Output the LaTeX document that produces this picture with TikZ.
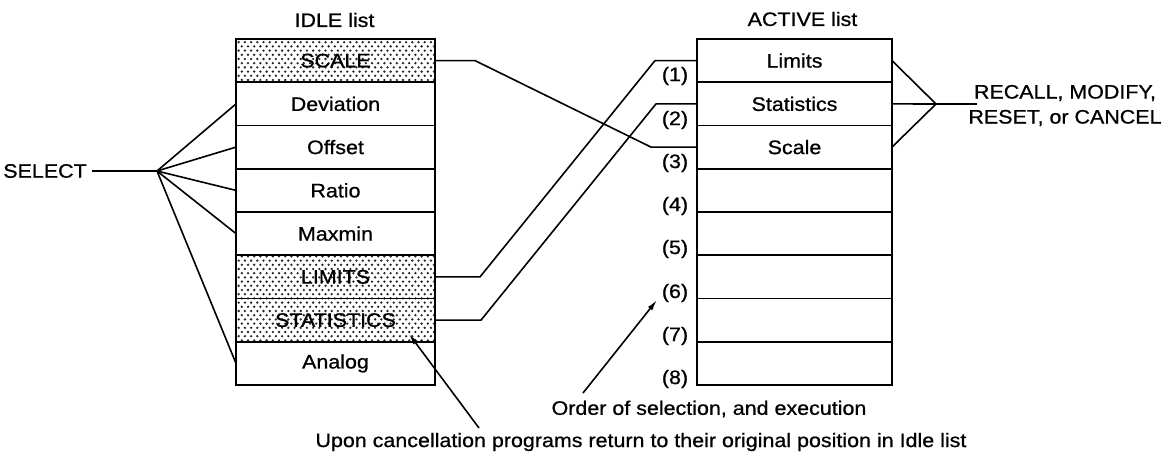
\documentclass[tikz,border=0pt]{standalone}
\usepackage{fontspec}
\setmainfont{Liberation Sans}[FakeStretch=1.1,FakeBold=0.8]
\usetikzlibrary{arrows.meta,patterns}
\pgfdeclarepatternformonly{stipple}{\pgfpoint{-2pt}{-2pt}}{\pgfpoint{8.2pt}{10.4pt}}{\pgfpoint{6.2pt}{8.4pt}}{%
  \pgfpathcircle{\pgfpoint{0pt}{0pt}}{1.3pt}%
  \pgfpathcircle{\pgfpoint{3.1pt}{4.2pt}}{1.3pt}%
  \pgfusepath{fill}}
\begin{document}
\begin{tikzpicture}[x=1pt,y=-1pt,
  txt/.style={font=\fontsize{19.5}{25}\selectfont, inner sep=2pt},
  cell/.style={draw, line width=1.8pt, minimum height=43.25pt, inner sep=0pt, outer sep=0pt, font=\fontsize{19.5}{23}\selectfont},
  idlecell/.style={cell, minimum width=199pt},
  actcell/.style={cell, minimum width=195pt},
  shaded/.style={pattern=stipple, pattern color=black!85, text=black},
  conn/.style={line width=1.6pt},
  arr/.style={line width=1.6pt, -{Latex[length=11pt,width=5.5pt]}},
  outline/.style={line width=2.8pt}]
\useasboundingbox (0,0) rectangle (1175,458);

% titles
\node[txt] (idletitle) at (334.5,20) {IDLE list};
\node[txt] (acttitle) at (802.5,19) {ACTIVE list};

% IDLE list cells
\node[idlecell, shaded] (i1) at (335.5,60.6) {SCALE};
\node[idlecell] (i2) at (335.5,103.9) {Deviation};
\node[idlecell] (i3) at (335.5,147.1) {Offset};
\node[idlecell] (i4) at (335.5,190.4) {Ratio};
\node[idlecell] (i5) at (335.5,233.6) {Maxmin};
\node[idlecell, shaded] (i6) at (335.5,276.9) {LIMITS};
\node[idlecell, shaded] (i7) at (335.5,320.1) {STATISTICS};
\node[idlecell] (i8) at (335.5,363.4) {Analog};
\draw[outline] (i1.north west) rectangle (i8.south east);

% ACTIVE list cells
\node[actcell] (a1) at (794.5,60.6) {Limits};
\node[actcell] (a2) at (794.5,103.9) {Statistics};
\node[actcell] (a3) at (794.5,147.1) {Scale};
\node[actcell] (a4) at (794.5,190.4) {};
\node[actcell] (a5) at (794.5,233.6) {};
\node[actcell] (a6) at (794.5,276.9) {};
\node[actcell] (a7) at (794.5,320.1) {};
\node[actcell] (a8) at (794.5,363.4) {};
\draw[outline] (a1.north west) rectangle (a8.south east);

% order numbers
\node[txt] (l1) at (675,76) {(1)};
\node[txt] (l2) at (675,120) {(2)};
\node[txt] (l3) at (675,163) {(3)};
\node[txt] (l4) at (675,206) {(4)};
\node[txt] (l5) at (675,249) {(5)};
\node[txt] (l6) at (675,293) {(6)};
\node[txt] (l7) at (675,336) {(7)};
\node[txt] (l8) at (675,379) {(8)};

% SELECT fan
\node[txt, inner sep=5pt] (sel) at (45,171) {SELECT};
\coordinate (fanL) at (157,171);
\draw[conn] (sel.east) -- (fanL);
\foreach \c in {i2,i3,i4,i5,i8} \draw[conn] (fanL) -- (\c.west);

% moves from IDLE to ACTIVE
\draw[conn] (i1.east) -- ++(40,0) -- ([xshift=-46pt]a3.west) -- (a3.west);
\draw[conn] (i6.east) -- ++(45,0) -- ([xshift=-42pt]a1.west) -- (a1.west);
\draw[conn] (i7.east) -- ++(46,0) -- ([xshift=-41pt]a2.west) -- (a2.west);

% right fan
\coordinate (fanR) at (936,104);
\coordinate (fanEnd) at (977,104);
\draw[conn] (a1.east) -- (fanR);
\draw[conn] (a2.east) -- (fanR);
\draw[conn] (a3.east) -- (fanR);
\draw[conn] (fanR) -- (fanEnd);
\node[txt, align=center] (ops) at (1065,105.5) {RECALL, MODIFY,\\RESET, or CANCEL};

% bottom captions and arrows
\node[txt] (ord) at (709,409) {Order of selection, and execution};
\node[txt] (cancel) at (641,442) {Upon cancellation programs return to their original position in Idle list};
\coordinate (ordtail) at (583,393);
\coordinate (ordtip) at (657,300);
\draw[arr] (ordtail) -- (ordtip);
\coordinate (cantail) at (479,428);
\coordinate (cantip) at (409,334);
\draw[arr] (cantail) -- (cantip);
\end{tikzpicture}
\end{document}
